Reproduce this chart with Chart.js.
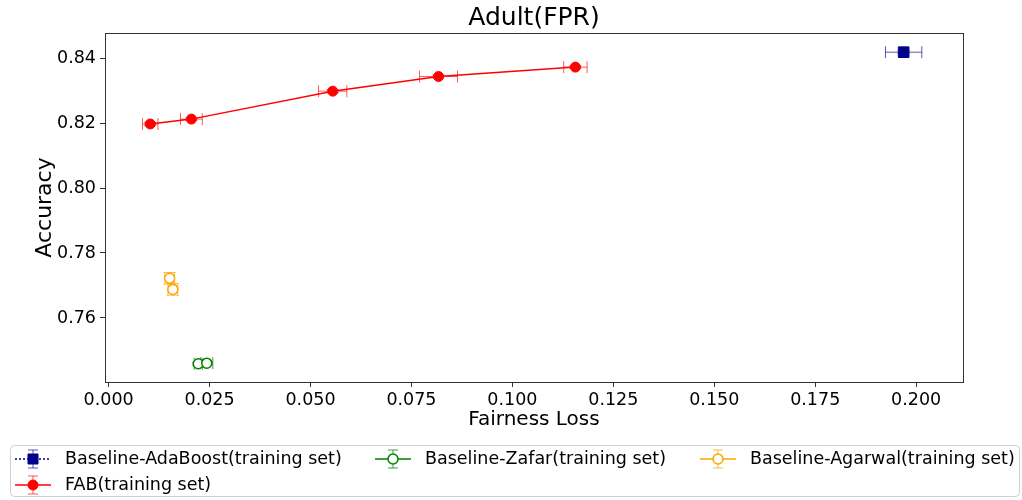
<!DOCTYPE html>
<html>
<head>
<meta charset="utf-8">
<script src="https://cdn.jsdelivr.net/npm/chart.js@4/dist/chart.umd.min.js"></script>
<style>
  body { margin: 0; background: #fff; }
  #wrap { width: 1022px; height: 500px; }
</style>
</head>
<body>
<div id="wrap"><canvas id="adultChart" width="1022" height="500"></canvas></div>
<script>
// values
const adaX = [0.1969];
const adaY = [0.8418];
const adaXErr = [0.0045];
const adaYErr = [0.0005];

const zafarX = [0.0222, 0.0243];
const zafarY = [0.7459, 0.7461];
const zafarXErr = [0.0010, 0.0015];
const zafarYErr = [0.0004, 0.0004];

const agarwalX = [0.0151, 0.0159];
const agarwalY = [0.7722, 0.7688];
const agarwalXErr = [0.0012, 0.0012];
const agarwalYErr = [0.0018, 0.0018];

const fabX = [0.0103, 0.0205, 0.0555, 0.0817, 0.1156];
const fabY = [0.8197, 0.8212, 0.8298, 0.8343, 0.8372];
const fabXErr = [0.0019, 0.0027, 0.0035, 0.0047, 0.0029];
const fabYErr = [0.0005, 0.0004, 0.0005, 0.0005, 0.0004];

const xTicks = [0, 0.025, 0.05, 0.075, 0.1, 0.125, 0.15, 0.175, 0.2];
const yTicks = [0.76, 0.78, 0.80, 0.82, 0.84];

const FONT = "'DejaVu Sans', sans-serif";

function pts(xs, ys, xe, ye) {
  return xs.map((x, i) => ({ x: x, y: ys[i], xErr: xe[i], yErr: ye[i] }));
}

// error bars with caps, drawn through the scales
const errorBars = {
  id: 'errorBars',
  beforeDatasetsDraw(chart) {
    const ctx = chart.ctx;
    const xs = chart.scales.x, ys = chart.scales.y;
    chart.data.datasets.forEach(ds => {
      ctx.save();
      ctx.strokeStyle = ds.errColor;
      ctx.lineWidth = 1;
      ds.data.forEach(p => {
        const cx = xs.getPixelForValue(p.x), cy = ys.getPixelForValue(p.y);
        const x0 = xs.getPixelForValue(p.x - p.xErr), x1 = xs.getPixelForValue(p.x + p.xErr);
        const y0 = ys.getPixelForValue(p.y - p.yErr), y1 = ys.getPixelForValue(p.y + p.yErr);
        const cap = 6;
        ctx.beginPath();
        ctx.moveTo(x0, cy); ctx.lineTo(x1, cy);
        ctx.moveTo(x0, cy - cap); ctx.lineTo(x0, cy + cap);
        ctx.moveTo(x1, cy - cap); ctx.lineTo(x1, cy + cap);
        ctx.moveTo(cx, y0); ctx.lineTo(cx, y1);
        ctx.moveTo(cx - cap, y0); ctx.lineTo(cx + cap, y0);
        ctx.moveTo(cx - cap, y1); ctx.lineTo(cx + cap, y1);
        ctx.stroke();
      });
      ctx.restore();
    });
  }
};

// frame, title and matplotlib-like legend
const decorations = {
  id: 'decorations',
  afterDraw(chart) {
    const ctx = chart.ctx;
    const a = chart.chartArea;
    ctx.save();
    ctx.strokeStyle = '#333';
    ctx.lineWidth = 1;
    ctx.strokeRect(Math.round(a.left) + 0.5, Math.round(a.top) + 0.5,
      Math.round(a.right - a.left), Math.round(a.bottom - a.top));

    ctx.fillStyle = '#000';
    ctx.font = '25px ' + FONT;
    ctx.textAlign = 'center';
    ctx.textBaseline = 'middle';
    ctx.fillText('Adult(FPR)', (a.left + a.right) / 2, 18);

    // legend box
    ctx.strokeStyle = '#d0d0d0';
    ctx.beginPath();
    ctx.roundRect(10.5, 445.5, 1009, 51, 4);
    ctx.stroke();

    const slots = [
      { x: 15, y: 459 }, { x: 375, y: 459 }, { x: 700, y: 459 }, { x: 15, y: 485 }
    ];
    chart.data.datasets.forEach((ds, i) => {
      const s = slots[i];
      const mx = s.x + 18;
      ctx.strokeStyle = ds.errColor;
      ctx.lineWidth = 1;
      ctx.beginPath();
      ctx.moveTo(mx, s.y - 9); ctx.lineTo(mx, s.y + 9);
      ctx.moveTo(mx - 5, s.y - 9); ctx.lineTo(mx + 5, s.y - 9);
      ctx.moveTo(mx - 5, s.y + 9); ctx.lineTo(mx + 5, s.y + 9);
      ctx.stroke();
      ctx.strokeStyle = ds.borderColor;
      ctx.lineWidth = 1.5;
      ctx.setLineDash(ds.legendDash || []);
      ctx.beginPath();
      ctx.moveTo(s.x, s.y); ctx.lineTo(s.x + 36, s.y);
      ctx.stroke();
      ctx.setLineDash([]);
      ctx.fillStyle = ds.pointBackgroundColor;
      ctx.strokeStyle = ds.pointBorderColor;
      ctx.lineWidth = ds.pointBorderWidth;
      ctx.beginPath();
      if (ds.pointStyle === 'rect') {
        ctx.rect(mx - 5, s.y - 5, 10, 10);
      } else {
        ctx.arc(mx, s.y, 5, 0, Math.PI * 2);
      }
      ctx.fill();
      ctx.stroke();
      ctx.fillStyle = '#000';
      ctx.font = '17.5px ' + FONT;
      ctx.textAlign = 'left';
      ctx.fillText(ds.label, s.x + 50, s.y);
    });
    ctx.restore();
  }
};

const ctx = document.getElementById('adultChart').getContext('2d');
const adultChart = new Chart(ctx, {
  type: 'scatter',
  data: {
    datasets: [
      {
        label: 'Baseline-AdaBoost(training set)',
        data: pts(adaX, adaY, adaXErr, adaYErr),
        pointStyle: 'rect',
        pointRadius: 7.5,
        pointBackgroundColor: '#00008b',
        pointBorderColor: '#00008b',
        pointBorderWidth: 1,
        borderColor: '#00008b',
        errColor: 'rgba(0,0,139,0.65)',
        legendDash: [2, 2],
        showLine: false
      },
      {
        label: 'Baseline-Zafar(training set)',
        data: pts(zafarX, zafarY, zafarXErr, zafarYErr),
        pointStyle: 'circle',
        pointRadius: 5,
        pointBackgroundColor: '#ffffff',
        pointBorderColor: '#008000',
        pointBorderWidth: 1.5,
        borderColor: '#008000',
        errColor: 'rgba(0,128,0,0.75)',
        showLine: false
      },
      {
        label: 'Baseline-Agarwal(training set)',
        data: pts(agarwalX, agarwalY, agarwalXErr, agarwalYErr),
        pointStyle: 'circle',
        pointRadius: 5,
        pointBackgroundColor: '#ffffff',
        pointBorderColor: '#ffa500',
        pointBorderWidth: 1.5,
        borderColor: '#ffa500',
        errColor: 'rgba(255,165,0,0.75)',
        showLine: false
      },
      {
        label: 'FAB(training set)',
        data: pts(fabX, fabY, fabXErr, fabYErr),
        pointStyle: 'circle',
        pointRadius: 5,
        pointBackgroundColor: '#ff0000',
        pointBorderColor: '#ff0000',
        pointBorderWidth: 1,
        borderColor: '#ff0000',
        borderWidth: 1.5,
        errColor: 'rgba(255,0,0,0.65)',
        showLine: true,
        tension: 0
      }
    ]
  },
  options: {
    responsive: false,
    animation: false,
    layout: { padding: { top: 33, right: 59, bottom: 68, left: 30 } },
    plugins: {
      legend: { display: false },
      title: { display: false },
      tooltip: { enabled: false }
    },
    scales: {
      x: {
        type: 'linear',
        min: -0.0009,
        max: 0.2116,
        afterBuildTicks: s => { s.ticks = xTicks.map(v => ({ value: v })); },
        afterFit: s => { s.height = 50; },
        ticks: {
          callback: v => v.toFixed(3),
          font: { family: FONT, size: 17.5 },
          color: '#000',
          padding: 3,
          maxRotation: 0
        },
        grid: { drawOnChartArea: false, tickLength: 5, color: '#333' },
        border: { color: '#333' },
        title: {
          display: true,
          text: 'Fairness Loss',
          font: { family: FONT, size: 20 },
          color: '#000',
          padding: { top: 2, bottom: 0 }
        }
      },
      y: {
        type: 'linear',
        min: 0.7403,
        max: 0.8477,
        afterBuildTicks: s => { s.ticks = yTicks.map(v => ({ value: v })); },
        afterFit: s => { s.width = 75; },
        ticks: {
          callback: v => v.toFixed(2),
          font: { family: FONT, size: 17.5 },
          color: '#000',
          padding: 4
        },
        grid: { drawOnChartArea: false, tickLength: 5, color: '#333' },
        border: { color: '#333' },
        title: {
          display: true,
          text: 'Accuracy',
          font: { family: FONT, size: 22 },
          color: '#000',
          padding: { top: 2, bottom: 0 }
        }
      }
    }
  },
  plugins: [errorBars, decorations]
});
</script>
</body>
</html>
